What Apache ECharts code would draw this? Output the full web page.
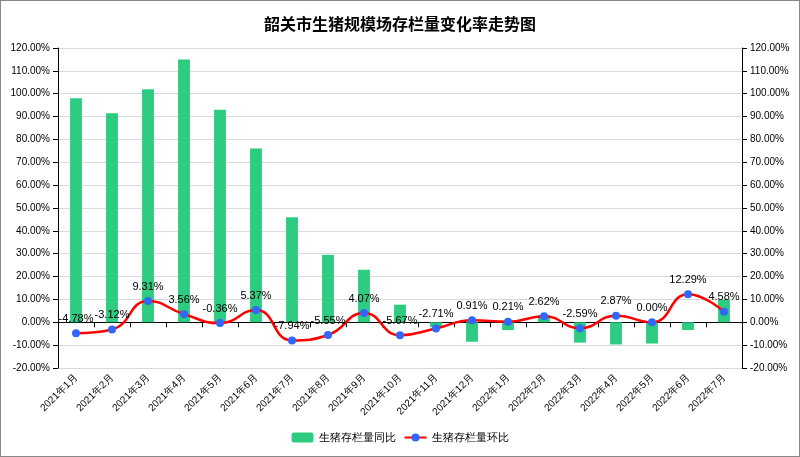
<!DOCTYPE html><html><head><meta charset="utf-8"><script src="https://cdn.jsdelivr.net/npm/echarts@6/dist/echarts.min.js"></script>
<style>html,body{margin:0;padding:0;background:#fff}#c{width:798px;height:455px;border:1px solid #888}</style></head><body><div id="c"></div><script>
const categories=['2021年1月','2021年2月','2021年3月','2021年4月','2021年5月','2021年6月','2021年7月','2021年8月','2021年9月','2021年10月','2021年11月','2021年12月','2022年1月','2022年2月','2022年3月','2022年4月','2022年5月','2022年6月','2022年7月'];
const yoy=[98.0,91.5,102.0,115.0,93.0,76.0,46.0,29.5,23.0,7.7,-2.1,-8.5,-3.4,3.1,-8.9,-9.7,-9.3,-3.4,9.9];
const mom=[-4.78,-3.12,9.31,3.56,-0.36,5.37,-7.94,-5.55,4.07,-5.67,-2.71,0.91,0.21,2.62,-2.59,2.87,0.00,12.29,4.58];
const c=echarts.init(document.getElementById('c'));
const yax=(pos)=>({type:'value',position:pos,min:-20,max:120,interval:10,axisLine:{show:true,lineStyle:{color:'#000'}},axisTick:{show:true},
 axisLabel:{formatter:v=>v.toFixed(2)+'%',fontSize:10,color:'#000',fontFamily:'Liberation Sans'},splitLine:{show:pos==='left',lineStyle:{color:'#d9d9d9'}}});
c.setOption({
 title:{text:'韶关市生猪规模场存栏量变化率走势图',left:'center',top:10,textStyle:{fontSize:16,fontWeight:'bold',color:'#000',fontFamily:'Noto Sans CJK SC'}},
 legend:{bottom:8,itemWidth:22,itemHeight:10,textStyle:{fontSize:11,color:'#000'},data:['生猪存栏量同比','生猪存栏量环比']},
 grid:{left:57,right:57,top:47,bottom:88},
 xAxis:{type:'category',data:categories,axisLine:{lineStyle:{color:'#000'}},axisTick:{show:true},axisLabel:{rotate:45,fontSize:10,color:'#000',interval:0}},
 yAxis:[yax('left'),yax('right')],
 series:[
  {name:'生猪存栏量同比',type:'bar',data:yoy,barWidth:'33%',itemStyle:{color:'#2ecc80'}},
  {name:'生猪存栏量环比',type:'line',data:mom,smooth:true,symbol:'circle',symbolSize:8,lineStyle:{color:'#ff0000',width:2.5},itemStyle:{color:'#3366ff'},
   label:{show:true,position:'top',formatter:p=>p.value.toFixed(2)+'%',fontSize:11,color:'#000'}}
 ]});
</script></body></html>
